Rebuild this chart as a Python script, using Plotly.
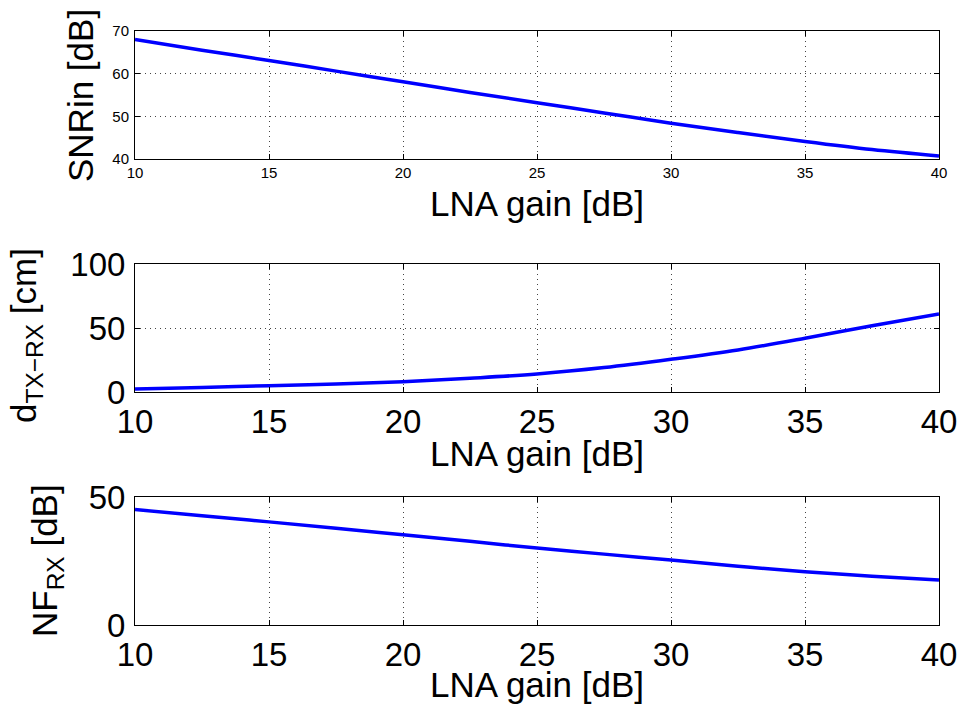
import plotly.graph_objects as go

# LNA gain sweep [dB]
lna_gain = [10, 12.5, 15, 17.5, 20, 22.5, 25, 27.5, 30, 32.5, 35, 37.5, 40]

# input SNR [dB]
snr_in = [68.0, 65.5, 63.1, 60.6, 58.1, 55.6, 53.2, 50.8, 48.4, 46.2, 44.1, 42.2, 40.7]
# TX-RX distance [cm]
d_txrx = [2.6, 3.8, 5.2, 6.5, 8.3, 11.0, 14.3, 19.3, 25.8, 33.1, 42.2, 52.0, 61.2]
# receiver noise figure [dB]
nf_rx = [45.2, 42.8, 40.4, 37.9, 35.4, 32.8, 30.2, 27.8, 25.5, 23.1, 20.9, 19.2, 17.7]

x_ticks = [10, 15, 20, 25, 30, 35, 40]
snr_ticks = [40, 50, 60, 70]
d_ticks = [0, 50, 100]
nf_ticks = [0, 50]

W, H = 964, 713
FONT = "Liberation Sans, Arial, Helvetica, sans-serif"
BLUE = "#0000ff"


def px_x(v):
    return v / W


def px_y(v):
    return 1 - v / H


x_dom = [px_x(135), px_x(939)]
panels = [
    # (series, y ticks, y range, top px, bottom px, tick font size)
    (snr_in, snr_ticks, [40, 70], 31, 159, 15),
    (d_txrx, d_ticks, [0, 100], 264.3, 392.3, 33),
    (nf_rx, nf_ticks, [0, 50], 497.3, 625.3, 33),
]

fig = go.Figure()
layout = {}
for i, (vals, yt, yr, top, bot, fs) in enumerate(panels, start=1):
    xa = "x" if i == 1 else f"x{i}"
    ya = "y" if i == 1 else f"y{i}"
    fig.add_trace(go.Scatter(
        x=lna_gain, y=vals, mode="lines", xaxis=xa, yaxis=ya,
        line=dict(color=BLUE, width=3.5, shape="spline", smoothing=1.0),
        showlegend=False, hoverinfo="x+y",
    ))
    common = dict(
        showline=True, linecolor="black", linewidth=1, mirror="ticks",
        ticks="inside", ticklen=5, tickcolor="black", tickwidth=1,
        showgrid=True, gridcolor="#444444", gridwidth=1, griddash="1px,4px",
        zeroline=False, automargin=False,
        tickfont=dict(family=FONT, size=fs, color="black"),
    )
    layout["xaxis" if i == 1 else f"xaxis{i}"] = dict(
        common, domain=x_dom, range=[10, 40], tickvals=x_ticks,
        anchor=ya,
    )
    layout["yaxis" if i == 1 else f"yaxis{i}"] = dict(
        common, domain=[px_y(bot), px_y(top)], range=yr, tickvals=yt,
        anchor=xa, ticklabelstandoff=2,
    )

title_font = dict(family=FONT, size=35, color="black")
annotations = []
# x-axis titles
for cy in (203, 453, 684):
    annotations.append(dict(
        text="LNA gain [dB]", xref="paper", yref="paper",
        x=px_x(537), y=px_y(cy), xanchor="center", yanchor="middle",
        showarrow=False, font=title_font,
    ))
# y-axis titles
for txt, cx, cy in (
    ("SNRin [dB]", 80, 96),
    ("d<sub>TX\u2212RX</sub> [cm]", 26, 336),
    ("NF<sub>RX</sub> [dB]", 47, 561),
):
    annotations.append(dict(
        text=txt, xref="paper", yref="paper", x=px_x(cx), y=px_y(cy),
        xanchor="center", yanchor="middle", textangle=-90,
        showarrow=False, font=title_font,
    ))

fig.update_layout(
    template="none",
    width=W, height=H, margin=dict(l=0, r=0, t=0, b=0),
    paper_bgcolor="white", plot_bgcolor="white",
    font=dict(family=FONT, color="black"),
    annotations=annotations, **layout,
)

fig.write_html("out.html")
